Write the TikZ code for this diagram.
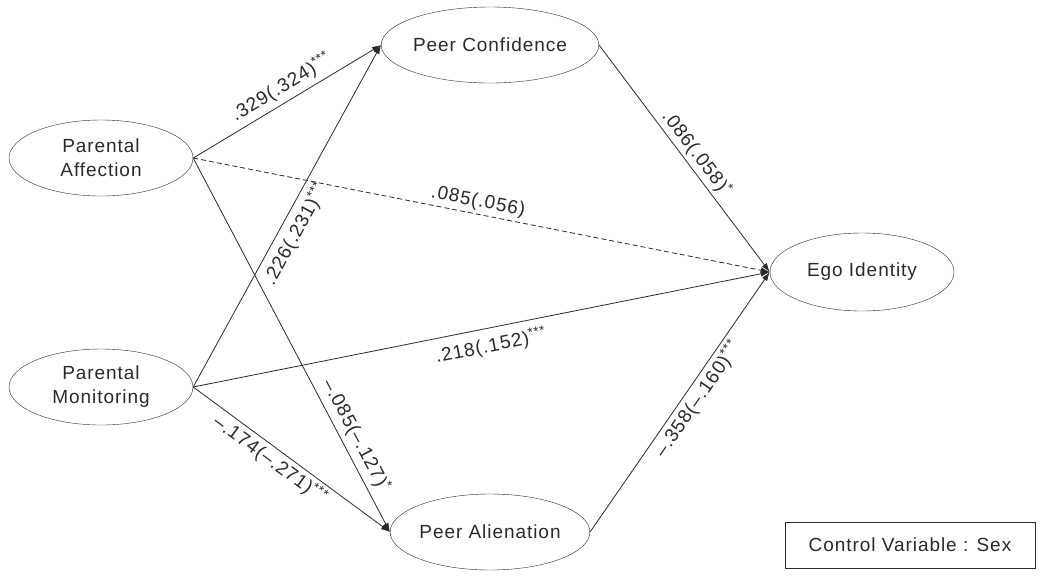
\documentclass[tikz,border=0pt]{standalone}
\usepackage{fontspec}
\setmainfont{Liberation Sans}[LetterSpace=5]
\usetikzlibrary{shapes.geometric,arrows.meta}
\definecolor{ink}{HTML}{2A2A2A}
\tikzset{
  latent/.style={draw=ink, ellipse, minimum width=184pt, minimum height=76pt, inner sep=0pt, align=center, text=ink, font=\fontsize{19}{24}\selectfont},
  path/.style={draw=ink, line width=0.8pt, -{Latex[length=9pt,width=6pt]}},
  lbl/.style={sloped, text=ink, font=\fontsize{19}{22}\selectfont, inner sep=3pt},
  ctrl/.style={draw=ink, line width=0.8pt, minimum width=250pt, minimum height=46pt, text=ink, font=\fontsize{19}{22}\selectfont}
}
\newcommand{\stars}[1]{\textsuperscript{#1}}
\begin{document}
\begin{tikzpicture}[x=1pt,y=-1pt]
\useasboundingbox (0,0) rectangle (1045,579);
\node[latent] (pa) at (101,158) {Parental\\Affection};
\node[latent] (pm) at (101,387) {Parental\\Monitoring};
\node[latent] (pc) at (490,45) {Peer Confidence};
\node[latent] (pal) at (490,532) {Peer Alienation};
\node[latent, minimum height=78pt] (ego) at (862,272) {Ego Identity};
\node[ctrl] (cv) at (910,545) {Control Variable : Sex};

\draw[path] (pa.east) -- node[lbl, above=2pt, pos=.51] {.329(.324)\stars{***}} (pc.west);
\draw[path] (pm.east) -- node[lbl, below=3pt, pos=.47] {.226(.231)\stars{***}} (pc.west);
\draw[path, dash pattern=on 5pt off 3pt] (pa.east) -- node[lbl, above, pos=.49] {.085(.056)} (ego.west);
\draw[path] (pc.east) -- node[lbl, above, pos=.51] {.086(.058)\stars{*}} (ego.west);
\draw[path] (pm.east) -- node[lbl, below=5pt, pos=.51] {.218(.152)\stars{***}} (ego.west);
\draw[path] (pa.east) -- node[lbl, above=2pt, pos=.76] {–.085(–.127)\stars{*}} (pal.west);
\draw[path] (pm.east) -- node[lbl, below, pos=.43] {–.174(–.271)\stars{***}} (pal.west);
\draw[path] (pal.east) -- node[lbl, below, pos=.54] {–.358(–.160)\stars{***}} (ego.west);
\end{tikzpicture}
\end{document}
